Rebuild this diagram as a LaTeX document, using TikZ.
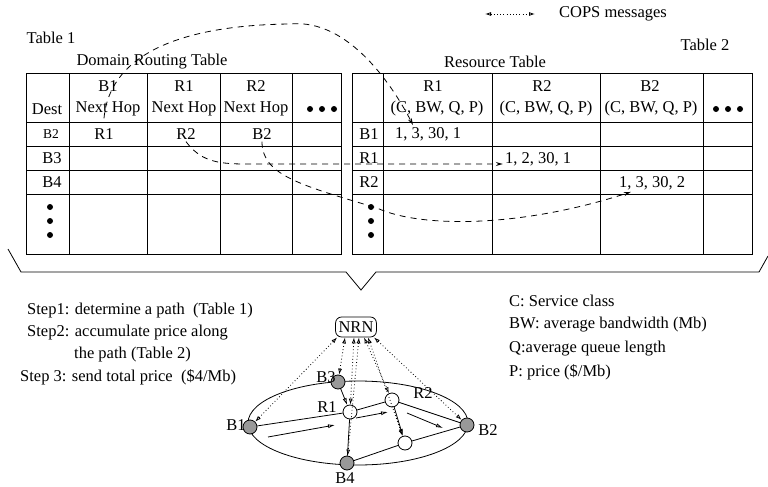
\documentclass[tikz,border=0pt]{standalone}
\usepackage{fontspec}
\setmainfont{Liberation Serif}
\usetikzlibrary{arrows.meta,shapes.geometric}

\begin{document}
\begin{tikzpicture}[x=1pt,y=-1pt,
  every node/.style={font=\fontsize{16.5}{19}\selectfont, inner sep=2pt},
  tab/.style={line width=0.9pt},
  lookup/.style={dash pattern=on 6pt off 5pt, line width=0.8pt, -{Stealth[open,length=7pt,width=4pt]}},
  cops/.style={dash pattern=on 0.8pt off 2.4pt, line width=0.8pt, {Latex[open,length=6pt,width=4pt]}-{Latex[open,length=6pt,width=4pt]}},
  border/.style={circle, draw, line width=0.8pt, fill=black!40, minimum size=14pt, inner sep=0pt},
  core/.style={circle, draw, line width=0.8pt, fill=white, minimum size=14pt, inner sep=0pt},
  link/.style={line width=0.8pt},
  flow/.style={line width=0.8pt, -{Latex[open,length=7pt,width=4pt]}},
  small/.style={font=\fontsize{13.5}{16}\selectfont}
]
\useasboundingbox (0,0) rectangle (768,487);

\coordinate (ca) at (485,14);
\coordinate (cb) at (535,14);
\draw[cops] (ca) -- (cb);
\node (copstxt) at (613,14) {COPS messages};

\node (tab1) at (51,38) {Table 1};
\node (tab2) at (705,45) {Table 2};
\node (drt) at (152,62) {Domain Routing Table};
\node (rt) at (495,62) {Resource Table};

\draw[tab] (26,73) rectangle (341,254)
  (69,73) -- (69,254) (147,73) -- (147,254) (220,73) -- (220,254) (292,73) -- (292,254)
  (26,122) -- (341,122) (26,146) -- (341,146) (26,170) -- (341,170) (26,194) -- (341,194);
\draw[tab] (352,73) rectangle (752,254)
  (383,73) -- (383,254) (492,73) -- (492,254) (600,73) -- (600,254) (703,73) -- (703,254)
  (352,122) -- (752,122) (352,146) -- (752,146) (352,170) -- (752,170) (352,194) -- (752,194);

\node (hb1) at (108,86) {B1};
\node (hr1) at (184,86) {R1};
\node (hr2) at (256,86) {R2};
\node (dest) at (47,109) {Dest};
\node (hop1) at (108,109) {Next Hop};
\node (hop2) at (184,109) {Next Hop};
\node (hop3) at (256,109) {Next Hop};
\node[small] (d2) at (51,134) {B2};
\node (d3) at (52,158) {B3};
\node (d4) at (52,182) {B4};
\node (nh1) at (104,134) {R1};
\node (nh2) at (186,134) {R2};
\node (nh3) at (262,134) {B2};
\fill (310,109) circle (3) (322,109) circle (3) (334,109) circle (3);
\fill (50,207) circle (3) (50,221) circle (3) (50,235) circle (3);

\node (gr1) at (433,86) {R1};
\node (gr2) at (542,86) {R2};
\node (gb2) at (650,86) {B2};
\node (cb1) at (437,109) {(C, BW, Q, P)};
\node (cb2) at (546,109) {(C, BW, Q, P)};
\node (cb3) at (651,109) {(C, BW, Q, P)};
\node (s1) at (369,134) {B1};
\node (s2) at (369,158) {R1};
\node (s3) at (369,182) {R2};
\node (c11) at (428,134) {1, 3, 30, 1};
\node (c22) at (538,159) {1, 2, 30, 1};
\node (c33) at (652,183) {1, 3, 30, 2};
\fill (716,109) circle (3) (728,109) circle (3) (740,109) circle (3);
\fill (371,207) circle (3) (371,221) circle (3) (371,235) circle (3);

\draw[lookup] ([xshift=-4pt]hop1.south) .. controls (110,50) and (190,25) .. (290,24) .. controls (350,18) and (395,90) .. ([xshift=-15pt]c11.north);
\draw[lookup] (nh2.south) .. controls (200,160) and (215,164) .. (245,164) -- ([yshift=-5pt]c22.west);
\draw[lookup] (nh3.south) .. controls (262,175) and (300,185) .. (377,208) .. controls (420,228) and (520,228) .. ([xshift=14pt]c33.south west);

\draw[line width=0.8pt] (8,249) -- (21,272) -- (346,272) -- (361,290) -- (376,272) -- (759,272) -- (768,256);

\node[anchor=west] (st1) at (25,311) {Step1: determine a path~ (Table 1)};
\node[anchor=west] (st2) at (25,333) {Step2: accumulate price along};
\node[anchor=west] (st2b) at (72,355) {the path (Table 2)};
\node[anchor=west] (st3) at (18,377) {Step 3: send total price~ (\$4/Mb)};

\node[anchor=west] (kc) at (507,301) {C: Service class};
\node[anchor=west] (kbw) at (507,325) {BW: average bandwidth (Mb)};
\node[anchor=west] (kq) at (507,349) {Q:average queue length};
\node[anchor=west] (kp) at (507,372) {P: price (\$/Mb)};

\draw[link] (358,423) ellipse [x radius=110, y radius=42];
\node[draw, line width=0.8pt, rounded corners=6pt, inner sep=3pt, minimum height=20pt] (nrn) at (356,327) {NRN};
\node[border] (b1) at (250,427) {};
\node[border] (b3) at (338,382) {};
\node[border] (b4) at (347,463) {};
\node[border] (b2) at (467,425) {};
\node[core] (r1) at (350,412) {};
\node[core] (r2) at (392,400) {};
\node[core] (r3) at (405,443) {};
\node (lb1) at (236,425) {B1};
\node (lb3) at (326,377) {B3};
\node (lr1) at (327,407) {R1};
\node (lr2) at (423,393) {R2};
\node (lb2) at (488,430) {B2};
\node (lb4) at (345,478) {B4};

\draw[link] (b1) -- (r1);
\draw[link] (r1) -- (r2);
\draw[link] (r2) -- (b2);
\draw[flow] (b3) -- (r1);
\draw[link] (r1) -- (b4);
\draw[flow] (r2) -- (r3);
\draw[link] (b4) -- (r3);
\draw[link] (r3) -- (b2);

\coordinate (h1a) at (268,437);
\coordinate (h1b) at (335,425);
\coordinate (h2a) at (356,418);
\coordinate (h2b) at (388,412);
\coordinate (h3a) at (407,413);
\coordinate (h3b) at (443,428);
\draw[flow] (h1a) -- (h1b);
\draw[flow] (h2a) -- (h2b);
\draw[flow] (h3a) -- (h3b);

\draw[cops] ([xshift=2pt]nrn.south west) -- (b1);
\draw[cops] ([xshift=-11pt]nrn.south) -- (b3);
\draw[cops] ([xshift=-2pt]nrn.south) -- (r1);
\draw[cops] ([xshift=3pt]nrn.south) -- (b4);
\draw[cops] ([xshift=8pt]nrn.south) -- (r2);
\draw[cops] ([xshift=12pt]nrn.south) -- (r3);
\draw[cops] ([xshift=18pt]nrn.south) -- (b2);
\end{tikzpicture}
\end{document}
